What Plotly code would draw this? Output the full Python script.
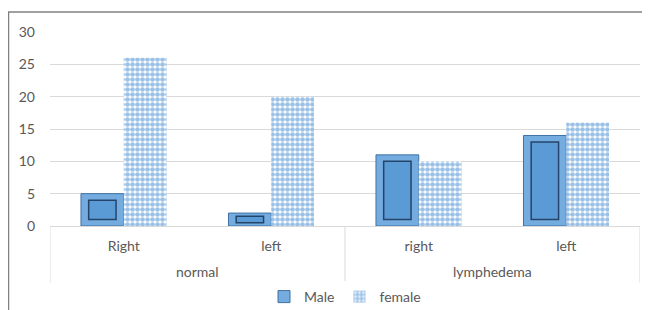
import plotly.graph_objects as go

groups = ["normal", "normal", "lymphedema", "lymphedema"]
sides = ["Right", "left", "right", "left"]
male = [5, 2, 11, 14]
female = [26, 20, 10, 16]
y_ticks = [0, 5, 10, 15, 20, 25, 30]

pos = list(range(len(sides)))
BW = 0.29
INSET = 1.0

# group spans derived from the group list
group_names = []
for g in groups:
    if g not in group_names:
        group_names.append(g)
group_idx = {g: [i for i, gg in enumerate(groups) if gg == g] for g in group_names}

fig = go.Figure()
fig.add_trace(go.Bar(
    x=pos, y=male, name="Male", width=BW, offset=-BW,
    marker=dict(color="#74ACE0", line=dict(color="#3F71A3", width=1)),
))
# bevel inner face (derived from male values)
fig.add_trace(go.Bar(
    x=pos, y=[max(v - 2 * min(INSET, v / 4), 0) for v in male],
    base=[min(INSET, v / 4) for v in male],
    width=BW * 0.64, offset=-BW * 0.82, showlegend=False, hoverinfo="skip",
    marker=dict(color="#5B9BD5", line=dict(color="#24446A", width=1.5)),
))
fig.add_trace(go.Bar(
    x=pos, y=female, name="female", width=BW, offset=0,
    marker=dict(color="white", line=dict(width=0),
                pattern=dict(shape=".", fgcolor="#3A84D0", bgcolor="white", size=5, solidity=0.7)),
))

annotations = []
shapes = []
plot_h = 194
plot_w = 590
for g in group_names:
    idx = group_idx[g]
    annotations.append(dict(x=sum(idx) / len(idx), y=-45 / plot_h, xref="x", yref="paper",
                            text=g, showarrow=False, yanchor="middle",
                            font=dict(family="Lato", size=14, color="#595959")))
bounds = [-0.5] + [max(group_idx[g]) + 0.5 for g in group_names]
for b in bounds:
    shapes.append(dict(type="line", xref="x", yref="paper", x0=b, x1=b, y0=0, y1=-57 / plot_h,
                       line=dict(color="#D9D9D9", width=1)))
# outer frame
shapes.append(dict(type="line", xref="paper", yref="paper", x0=-41.5 / plot_w, x1=-41.5 / plot_w,
                   y0=-0.6, y1=1 + 20 / plot_h, line=dict(color="#808080", width=1.5)))
shapes.append(dict(type="line", xref="paper", yref="paper", x0=-42 / plot_w, x1=1.1,
                   y0=1 + 20 / plot_h, y1=1 + 20 / plot_h, line=dict(color="#808080", width=1.5)))

fig.update_layout(
    width=642, height=302,
    margin=dict(l=42, r=10, t=24, b=84, autoexpand=False),
    paper_bgcolor="white", plot_bgcolor="white",
    barmode="overlay",
    font=dict(family="Lato", size=14, color="#595959"),
    legend=dict(orientation="h", x=0.5, xanchor="center", y=-71 / plot_h, yanchor="middle",
                font=dict(size=14, color="#595959"), itemwidth=30, tracegroupgap=0),
    showlegend=True,
    annotations=annotations,
    shapes=shapes,
)
fig.update_yaxes(range=[0, 30], tickvals=y_ticks, showgrid=True, gridcolor="#D9D9D9",
                 zeroline=False, showline=False, ticks="", ticklabelstandoff=14, automargin=False)
fig.update_xaxes(range=[-0.5, 3.5], tickvals=pos, ticktext=sides, showgrid=False, showline=True,
                 linecolor="#D9D9D9", ticks="", ticklabelstandoff=7, automargin=False)

fig.write_html("out.html")
